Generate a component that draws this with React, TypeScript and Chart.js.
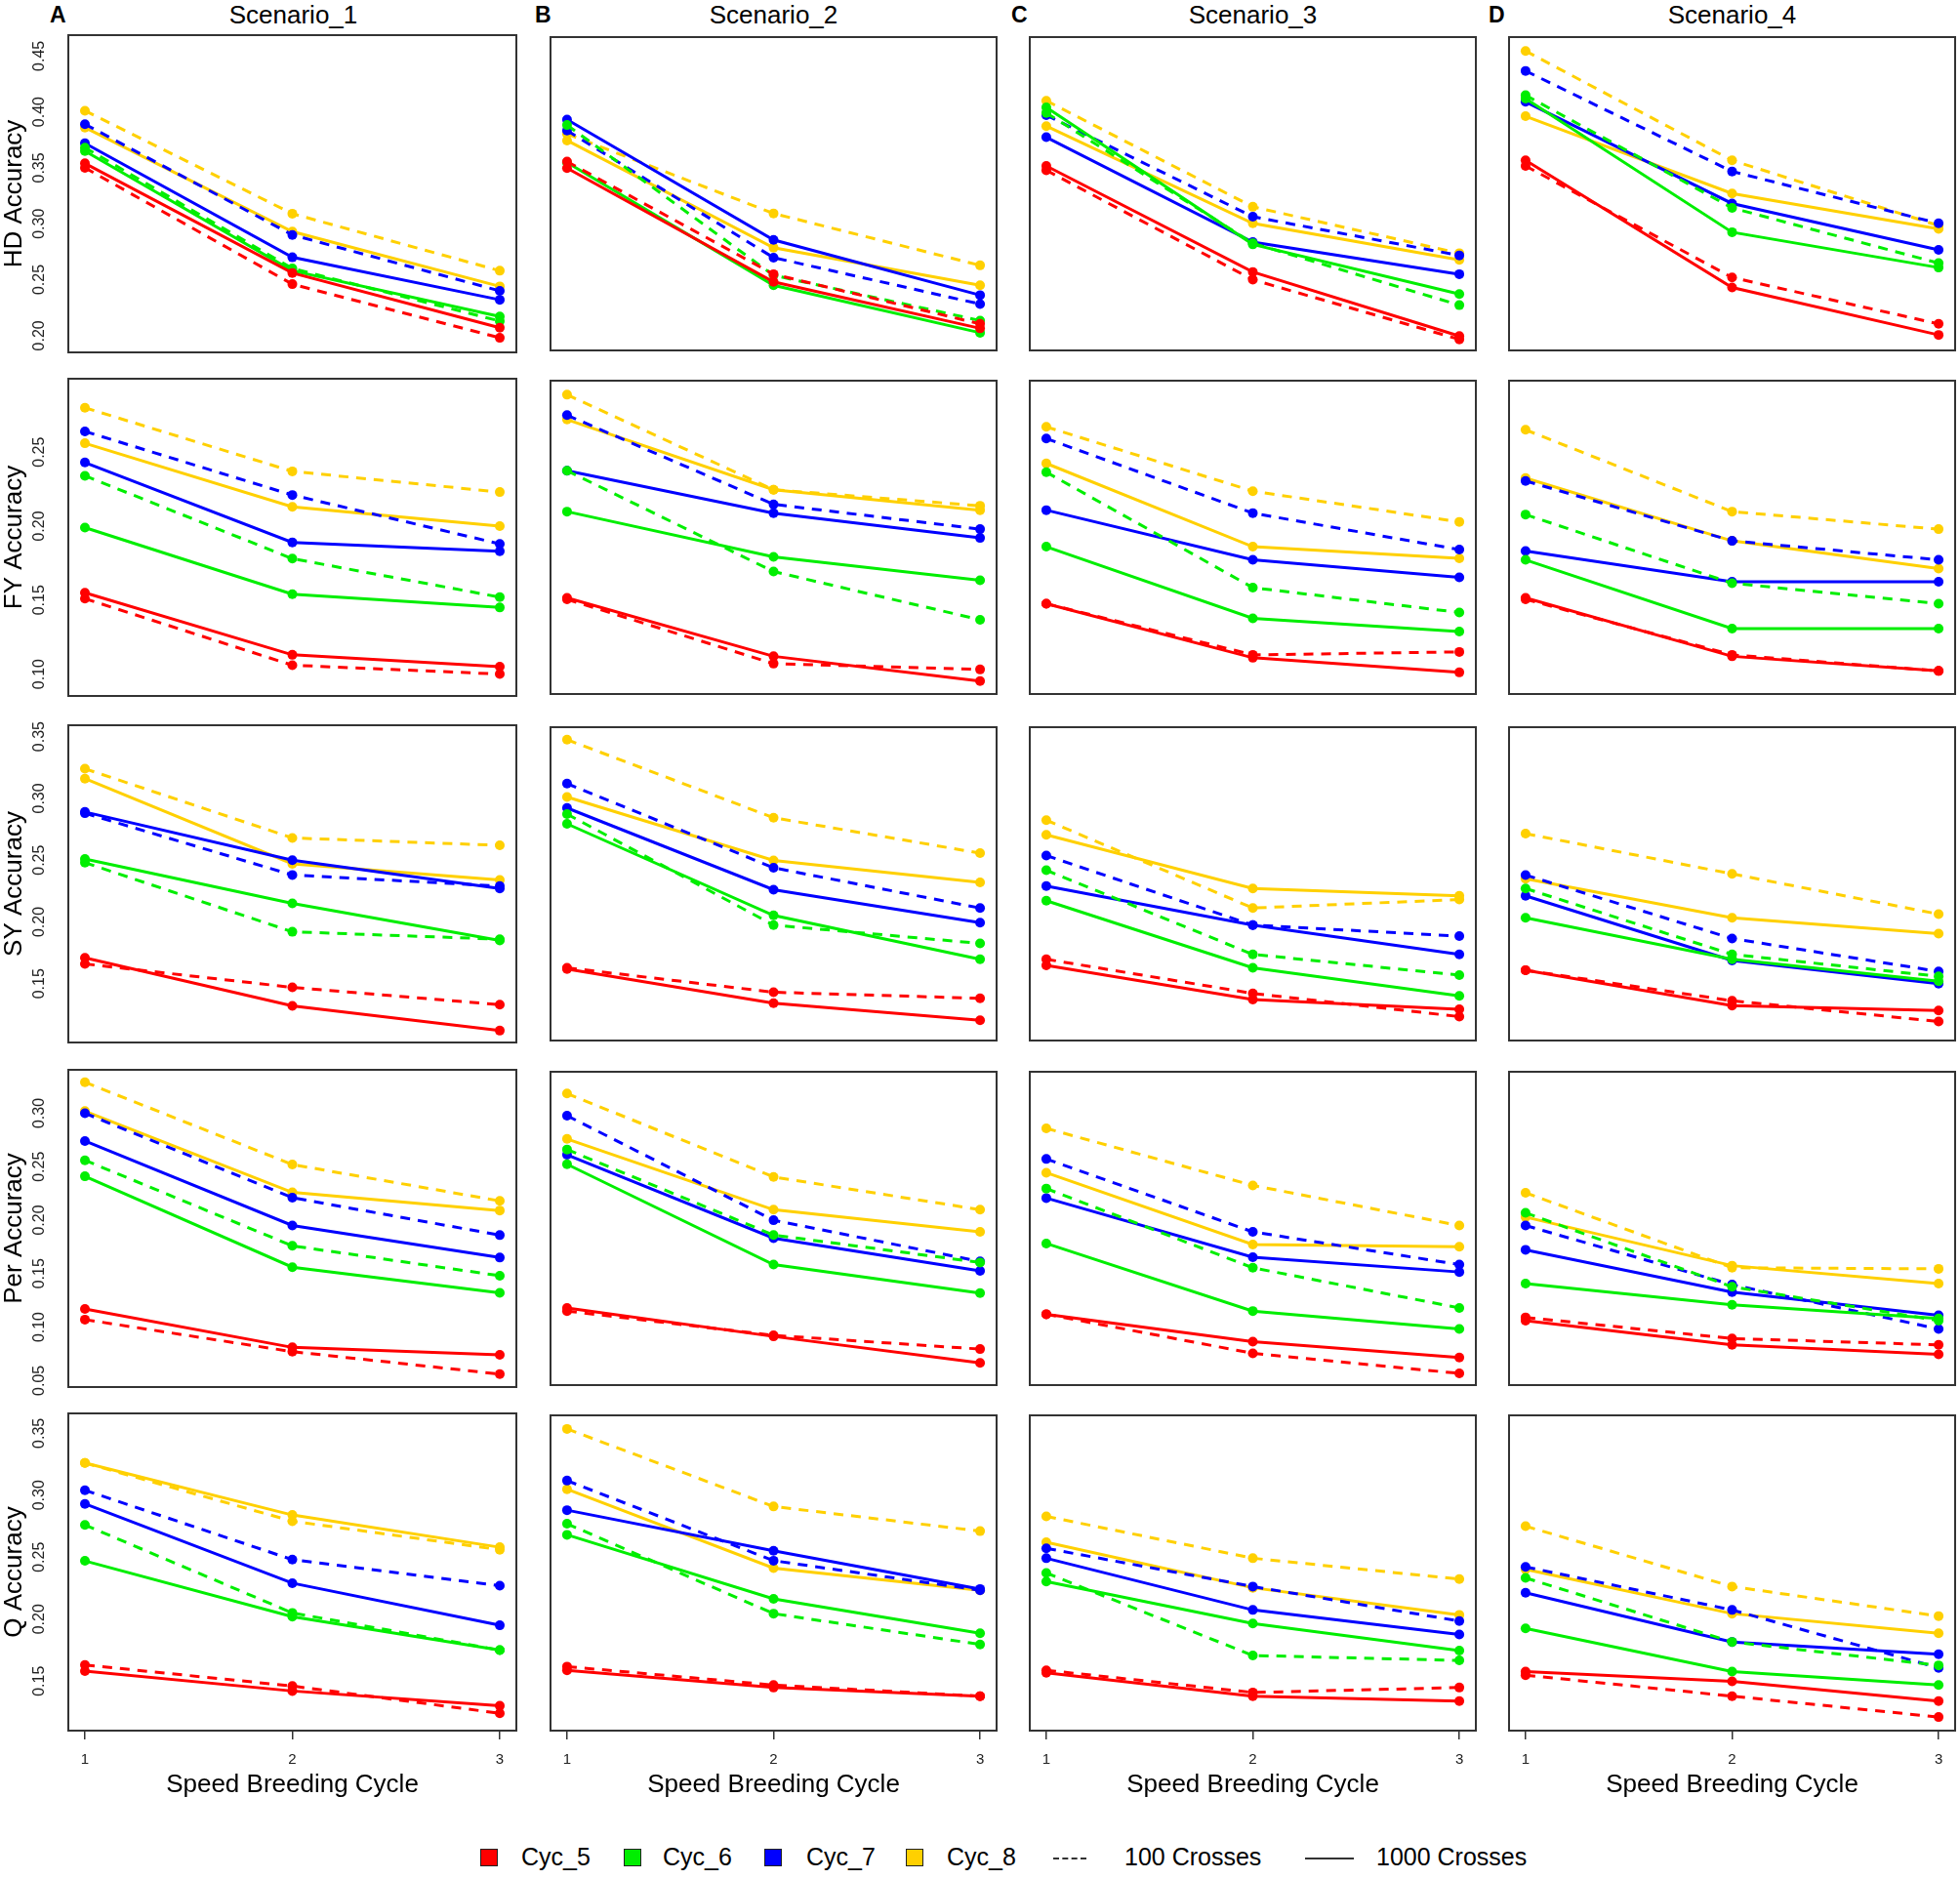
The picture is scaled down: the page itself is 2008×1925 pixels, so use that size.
import React, { useEffect, useRef } from 'react';
import { Chart, registerables } from 'chart.js';

Chart.register(...registerables);

const FONT = '"Liberation Sans", Arial, Helvetica, sans-serif';
Chart.defaults.font.family = FONT;

// ---------- data ----------
const X_VALUES = [1, 2, 3];
const X_MIN = 0.92;
const X_MAX = 3.08;
const CYCLES = ['Cyc_5', 'Cyc_6', 'Cyc_7', 'Cyc_8'];
const CYCLE_COLORS = ['#FF0000', '#00EE00', '#0000FF', '#FFD000'];
const CROSSES = ['100 Crosses', '1000 Crosses'];
const SCENARIOS = ['Scenario_1', 'Scenario_2', 'Scenario_3', 'Scenario_4'];
const PANEL_LETTERS = ['A', 'B', 'C', 'D'];
const TRAIT_LABELS = ['HD Accuracy', 'FY Accuracy', 'SY Accuracy', 'Per Accuracy', 'Q Accuracy'];
const X_TITLE = 'Speed Breeding Cycle';

const HD_TICKS = [0.2, 0.25, 0.3, 0.35, 0.4, 0.45];
const FY_TICKS = [0.1, 0.15, 0.2, 0.25];
const SY_TICKS = [0.15, 0.2, 0.25, 0.3, 0.35];
const PER_TICKS = [0.05, 0.1, 0.15, 0.2, 0.25, 0.3];
const Q_TICKS = [0.15, 0.2, 0.25, 0.3, 0.35];

const HD_RANGE = [0.185, 0.4686];
const FY_RANGE = [0.0852, 0.2996];
const SY_RANGE = [0.1024, 0.3592];
const PER_RANGE = [0.0439, 0.3406];
const Q_RANGE = [0.11, 0.366];

// series order: Cyc_5 100, Cyc_5 1000, Cyc_6 100, Cyc_6 1000, Cyc_7 100, Cyc_7 1000, Cyc_8 100, Cyc_8 1000
const HD_S1 = [
  [0.350, 0.246, 0.198], [0.354, 0.256, 0.207],
  [0.368, 0.260, 0.213], [0.365, 0.258, 0.217],
  [0.389, 0.290, 0.240], [0.372, 0.270, 0.232],
  [0.401, 0.309, 0.258], [0.386, 0.293, 0.244],
];
const HD_S2 = [
  [0.356, 0.254, 0.209], [0.350, 0.247, 0.205],
  [0.389, 0.253, 0.212], [0.355, 0.244, 0.201],
  [0.384, 0.269, 0.227], [0.394, 0.285, 0.235],
  [0.381, 0.309, 0.262], [0.375, 0.278, 0.244],
];
const HD_S3 = [
  [0.348, 0.249, 0.195], [0.352, 0.256, 0.198],
  [0.400, 0.282, 0.226], [0.405, 0.281, 0.236],
  [0.398, 0.306, 0.271], [0.378, 0.283, 0.254],
  [0.411, 0.315, 0.273], [0.388, 0.300, 0.267],
];
const HD_S4 = [
  [0.352, 0.251, 0.209], [0.357, 0.242, 0.199],
  [0.416, 0.314, 0.264], [0.413, 0.292, 0.260],
  [0.438, 0.347, 0.300], [0.410, 0.318, 0.276],
  [0.456, 0.357, 0.298], [0.397, 0.327, 0.295],
];
const FY_S1 = [
  [0.151, 0.106, 0.100], [0.155, 0.113, 0.105],
  [0.234, 0.178, 0.152], [0.199, 0.154, 0.145],
  [0.264, 0.221, 0.188], [0.243, 0.189, 0.183],
  [0.280, 0.237, 0.223], [0.256, 0.213, 0.200],
];
const FY_S2 = [
  [0.150, 0.106, 0.102], [0.151, 0.111, 0.094],
  [0.238, 0.169, 0.136], [0.210, 0.179, 0.163],
  [0.276, 0.215, 0.198], [0.238, 0.209, 0.192],
  [0.290, 0.225, 0.214], [0.273, 0.225, 0.211],
];
const FY_S3 = [
  [0.147, 0.112, 0.114], [0.147, 0.110, 0.100],
  [0.237, 0.158, 0.141], [0.186, 0.137, 0.128],
  [0.260, 0.209, 0.184], [0.211, 0.177, 0.165],
  [0.268, 0.224, 0.203], [0.243, 0.186, 0.178],
];
const FY_S4 = [
  [0.150, 0.112, 0.101], [0.151, 0.111, 0.101],
  [0.208, 0.161, 0.147], [0.177, 0.130, 0.130],
  [0.231, 0.190, 0.177], [0.183, 0.162, 0.162],
  [0.266, 0.210, 0.198], [0.233, 0.190, 0.171],
];
const SY_S1 = [
  [0.166, 0.147, 0.133], [0.171, 0.132, 0.112],
  [0.248, 0.192, 0.186], [0.251, 0.215, 0.185],
  [0.288, 0.238, 0.229], [0.289, 0.250, 0.227],
  [0.324, 0.268, 0.262], [0.316, 0.247, 0.234],
];
const SY_S2 = [
  [0.162, 0.142, 0.137], [0.161, 0.133, 0.119],
  [0.288, 0.197, 0.182], [0.280, 0.205, 0.169],
  [0.313, 0.244, 0.211], [0.293, 0.226, 0.199],
  [0.349, 0.285, 0.256], [0.302, 0.250, 0.232],
];
const SY_S3 = [
  [0.169, 0.141, 0.122], [0.164, 0.136, 0.128],
  [0.242, 0.173, 0.156], [0.217, 0.162, 0.139],
  [0.254, 0.197, 0.188], [0.229, 0.197, 0.173],
  [0.283, 0.211, 0.218], [0.271, 0.227, 0.221],
];
const SY_S4 = [
  [0.160, 0.135, 0.118], [0.160, 0.131, 0.127],
  [0.227, 0.173, 0.155], [0.203, 0.169, 0.151],
  [0.238, 0.186, 0.159], [0.221, 0.168, 0.149],
  [0.272, 0.239, 0.206], [0.235, 0.203, 0.190],
];
const PER_S1 = [
  [0.107, 0.077, 0.056], [0.117, 0.081, 0.074],
  [0.256, 0.176, 0.148], [0.241, 0.156, 0.132],
  [0.300, 0.221, 0.186], [0.274, 0.195, 0.165],
  [0.329, 0.252, 0.218], [0.302, 0.226, 0.209],
];
const PER_S2 = [
  [0.114, 0.091, 0.078], [0.117, 0.090, 0.065],
  [0.267, 0.186, 0.160], [0.253, 0.158, 0.131],
  [0.299, 0.200, 0.161], [0.262, 0.183, 0.152],
  [0.320, 0.241, 0.210], [0.277, 0.210, 0.189],
];
const PER_S3 = [
  [0.111, 0.074, 0.055], [0.111, 0.085, 0.070],
  [0.230, 0.155, 0.117], [0.178, 0.114, 0.097],
  [0.258, 0.189, 0.158], [0.221, 0.165, 0.151],
  [0.287, 0.233, 0.195], [0.245, 0.177, 0.175],
];
const PER_S4 = [
  [0.108, 0.088, 0.082], [0.105, 0.082, 0.073],
  [0.207, 0.137, 0.105], [0.140, 0.120, 0.107],
  [0.195, 0.139, 0.097], [0.172, 0.132, 0.110],
  [0.226, 0.155, 0.154], [0.203, 0.157, 0.140],
];
const Q_S1 = [
  [0.163, 0.146, 0.124], [0.158, 0.142, 0.130],
  [0.276, 0.205, 0.175], [0.247, 0.202, 0.175],
  [0.304, 0.248, 0.227], [0.293, 0.229, 0.195],
  [0.326, 0.279, 0.256], [0.326, 0.284, 0.258],
];
const Q_S2 = [
  [0.162, 0.147, 0.138], [0.159, 0.145, 0.138],
  [0.278, 0.205, 0.180], [0.269, 0.217, 0.189],
  [0.313, 0.248, 0.224], [0.289, 0.256, 0.225],
  [0.355, 0.292, 0.272], [0.306, 0.242, 0.224],
];
const Q_S3 = [
  [0.159, 0.141, 0.145], [0.157, 0.138, 0.134],
  [0.238, 0.171, 0.167], [0.231, 0.197, 0.175],
  [0.258, 0.227, 0.199], [0.250, 0.208, 0.188],
  [0.284, 0.250, 0.233], [0.263, 0.226, 0.204],
];
const Q_S4 = [
  [0.155, 0.138, 0.121], [0.158, 0.150, 0.134],
  [0.234, 0.182, 0.163], [0.193, 0.158, 0.147],
  [0.243, 0.208, 0.161], [0.222, 0.182, 0.172],
  [0.276, 0.227, 0.203], [0.241, 0.205, 0.189],
];

const PANEL_DATA = [
  [HD_S1, HD_S2, HD_S3, HD_S4],
  [FY_S1, FY_S2, FY_S3, FY_S4],
  [SY_S1, SY_S2, SY_S3, SY_S4],
  [PER_S1, PER_S2, PER_S3, PER_S4],
  [Q_S1, Q_S2, Q_S3, Q_S4],
];
const ROW_TICKS = [HD_TICKS, FY_TICKS, SY_TICKS, PER_TICKS, Q_TICKS];
const ROW_RANGES = [HD_RANGE, FY_RANGE, SY_RANGE, PER_RANGE, Q_RANGE];

// ---------- layout ----------
const COL_LEFT = [70, 562, 1053, 1544];
const ROW_TOP = [36, 388, 743, 1096, 1448];
const BOX_W = 461;
const BOX_H = 325;
const PAD = 3;
const LEFT_AXIS_W = 70;
const BOTTOM_AXIS_H = 80;
const LEFT_EXTRA = 24;

function Panel({ row, col }: { row: number; col: number }) {
  const ref = useRef<HTMLCanvasElement | null>(null);
  const isLeft = col === 0;
  const isBottom = row === 4;
  const padL = isLeft ? LEFT_AXIS_W : PAD;
  const padT = isLeft ? LEFT_EXTRA : PAD;
  const padB = isBottom ? BOTTOM_AXIS_H : isLeft ? LEFT_EXTRA : PAD;
  const w = BOX_W + padL + PAD;
  const h = BOX_H + padT + padB;
  const left = COL_LEFT[col] - padL;
  const top = ROW_TOP[row] - padT;

  useEffect(() => {
    if (!ref.current) return;
    const series = PANEL_DATA[row][col];
    const datasets = series.map((vals, s) => {
      const cyc = Math.floor(s / 2);
      const dashed = s % 2 === 0;
      const color = CYCLE_COLORS[cyc];
      return {
        label: `${CYCLES[cyc]} ${CROSSES[s % 2]}`,
        data: X_VALUES.map((x, i) => ({ x, y: vals[i] })),
        borderColor: color,
        backgroundColor: color,
        borderWidth: 3,
        borderDash: dashed ? [10, 8] : [],
        pointRadius: 5,
        pointHoverRadius: 5,
        pointBorderWidth: 0,
        pointBackgroundColor: color,
        tension: 0,
        fill: false,
      };
    });

    const boxPlugin = {
      id: 'panelBox',
      afterDraw(chart: any) {
        const { ctx, chartArea } = chart;
        ctx.save();
        ctx.strokeStyle = '#333333';
        ctx.lineWidth = 2;
        ctx.strokeRect(chartArea.left, chartArea.top, chartArea.right - chartArea.left, chartArea.bottom - chartArea.top);
        ctx.restore();
      },
    };
    const yLabelPlugin = {
      id: 'rotatedYTicks',
      afterDraw(chart: any) {
        if (!isLeft) return;
        const s = chart.scales.y;
        const ctx = chart.ctx;
        ctx.save();
        ctx.font = `16px ${FONT}`;
        ctx.fillStyle = '#222222';
        ctx.textAlign = 'center';
        ctx.textBaseline = 'middle';
        for (const t of s.ticks) {
          const y = s.getPixelForValue(t.value);
          ctx.save();
          ctx.translate(41, y);
          ctx.rotate(-Math.PI / 2);
          ctx.fillText(Number(t.value).toFixed(2), 0, 0);
          ctx.restore();
        }
        ctx.restore();
      },
    };

    const xScale: any = {
      type: 'linear',
      min: X_MIN,
      max: X_MAX,
      display: isBottom,
      afterBuildTicks: (scale: any) => {
        scale.ticks = X_VALUES.map((v) => ({ value: v }));
      },
      grid: { display: true, drawOnChartArea: false, drawTicks: true, tickLength: 9, color: '#333333', lineWidth: 1.5 },
      border: { display: false },
      ticks: {
        color: '#222222',
        font: { size: 15, family: FONT },
        padding: 12,
        maxRotation: 0,
        minRotation: 0,
        callback: (v: any) => String(v),
      },
      title: {
        display: true,
        text: X_TITLE,
        color: '#000000',
        font: { size: 26, family: FONT },
        padding: { top: 0, bottom: 9 },
      },
    };
    if (isBottom) {
      xScale.afterFit = (scale: any) => {
        scale.height = BOTTOM_AXIS_H;
      };
    }
    const yScale: any = {
      type: 'linear',
      min: ROW_RANGES[row][0],
      max: ROW_RANGES[row][1],
      display: isLeft,
      afterBuildTicks: (scale: any) => {
        scale.ticks = ROW_TICKS[row].map((v) => ({ value: v }));
      },
      grid: { display: false },
      border: { display: false },
      ticks: { display: false },
      title: {
        display: true,
        text: TRAIT_LABELS[row],
        color: '#000000',
        font: { size: 26, family: FONT, lineHeight: 1 },
        padding: { top: 2, bottom: 0 },
      },
    };
    if (isLeft) {
      yScale.afterFit = (scale: any) => {
        scale.width = LEFT_AXIS_W;
      };
    }

    const chart = new Chart(ref.current, {
      type: 'line',
      data: { datasets } as any,
      plugins: [boxPlugin, yLabelPlugin],
      options: {
        responsive: false,
        animation: false,
        events: [],
        devicePixelRatio: 1,
        layout: { padding: { left: isLeft ? 0 : PAD, right: PAD, top: padT, bottom: isBottom ? 0 : padB } },
        plugins: { legend: { display: false }, tooltip: { enabled: false }, title: { display: false } },
        scales: { x: xScale, y: yScale },
      } as any,
    });
    return () => chart.destroy();
  }, [row, col]);

  return (
    <canvas
      ref={ref}
      width={w}
      height={h}
      style={{ position: 'absolute', left, top, width: w, height: h }}
    />
  );
}

const LEGEND_SQUARE_X = [492, 639, 783, 928];
const LEGEND_TEXT_X = [534, 679, 826, 970];

export default function App() {
  const panels: React.ReactNode[] = [];
  for (let r = 0; r < 5; r++) {
    for (let c = 0; c < 4; c++) {
      panels.push(<Panel key={`${r}-${c}`} row={r} col={c} />);
    }
  }
  const letterX = [51, 548, 1036, 1525];
  return (
    <div
      style={{
        position: 'absolute',
        left: 0,
        top: 0,
        width: 2008,
        height: 1925,
        background: '#ffffff',
        fontFamily: FONT,
        overflow: 'hidden',
      }}
    >
      {PANEL_LETTERS.map((l, i) => (
        <div key={l} style={{ position: 'absolute', left: letterX[i], top: 2, fontSize: 23, fontWeight: 'bold', lineHeight: '26px', color: '#000' }}>
          {l}
        </div>
      ))}
      {SCENARIOS.map((s, i) => (
        <div
          key={s}
          style={{
            position: 'absolute',
            left: COL_LEFT[i],
            width: BOX_W,
            top: 0,
            textAlign: 'center',
            fontSize: 26,
            lineHeight: '30px',
            color: '#000',
          }}
        >
          {s}
        </div>
      ))}
      {panels}
      {CYCLES.map((cy, i) => (
        <React.Fragment key={cy}>
          <div
            style={{
              position: 'absolute',
              left: LEGEND_SQUARE_X[i],
              top: 1894,
              width: 16,
              height: 16,
              background: CYCLE_COLORS[i],
              border: '1.5px solid #222',
            }}
          />
          <div style={{ position: 'absolute', left: LEGEND_TEXT_X[i], top: 1887, fontSize: 25, lineHeight: '30px', color: '#000' }}>
            {cy}
          </div>
        </React.Fragment>
      ))}
      <div style={{ position: 'absolute', left: 1079, top: 1903, width: 34, height: 0, borderTop: '2.5px dashed #333' }} />
      <div style={{ position: 'absolute', left: 1152, top: 1887, fontSize: 25, lineHeight: '30px', color: '#000' }}>
        {CROSSES[0]}
      </div>
      <div style={{ position: 'absolute', left: 1337, top: 1903, width: 50, height: 0, borderTop: '2.5px solid #333' }} />
      <div style={{ position: 'absolute', left: 1410, top: 1887, fontSize: 25, lineHeight: '30px', color: '#000' }}>
        {CROSSES[1]}
      </div>
    </div>
  );
}
